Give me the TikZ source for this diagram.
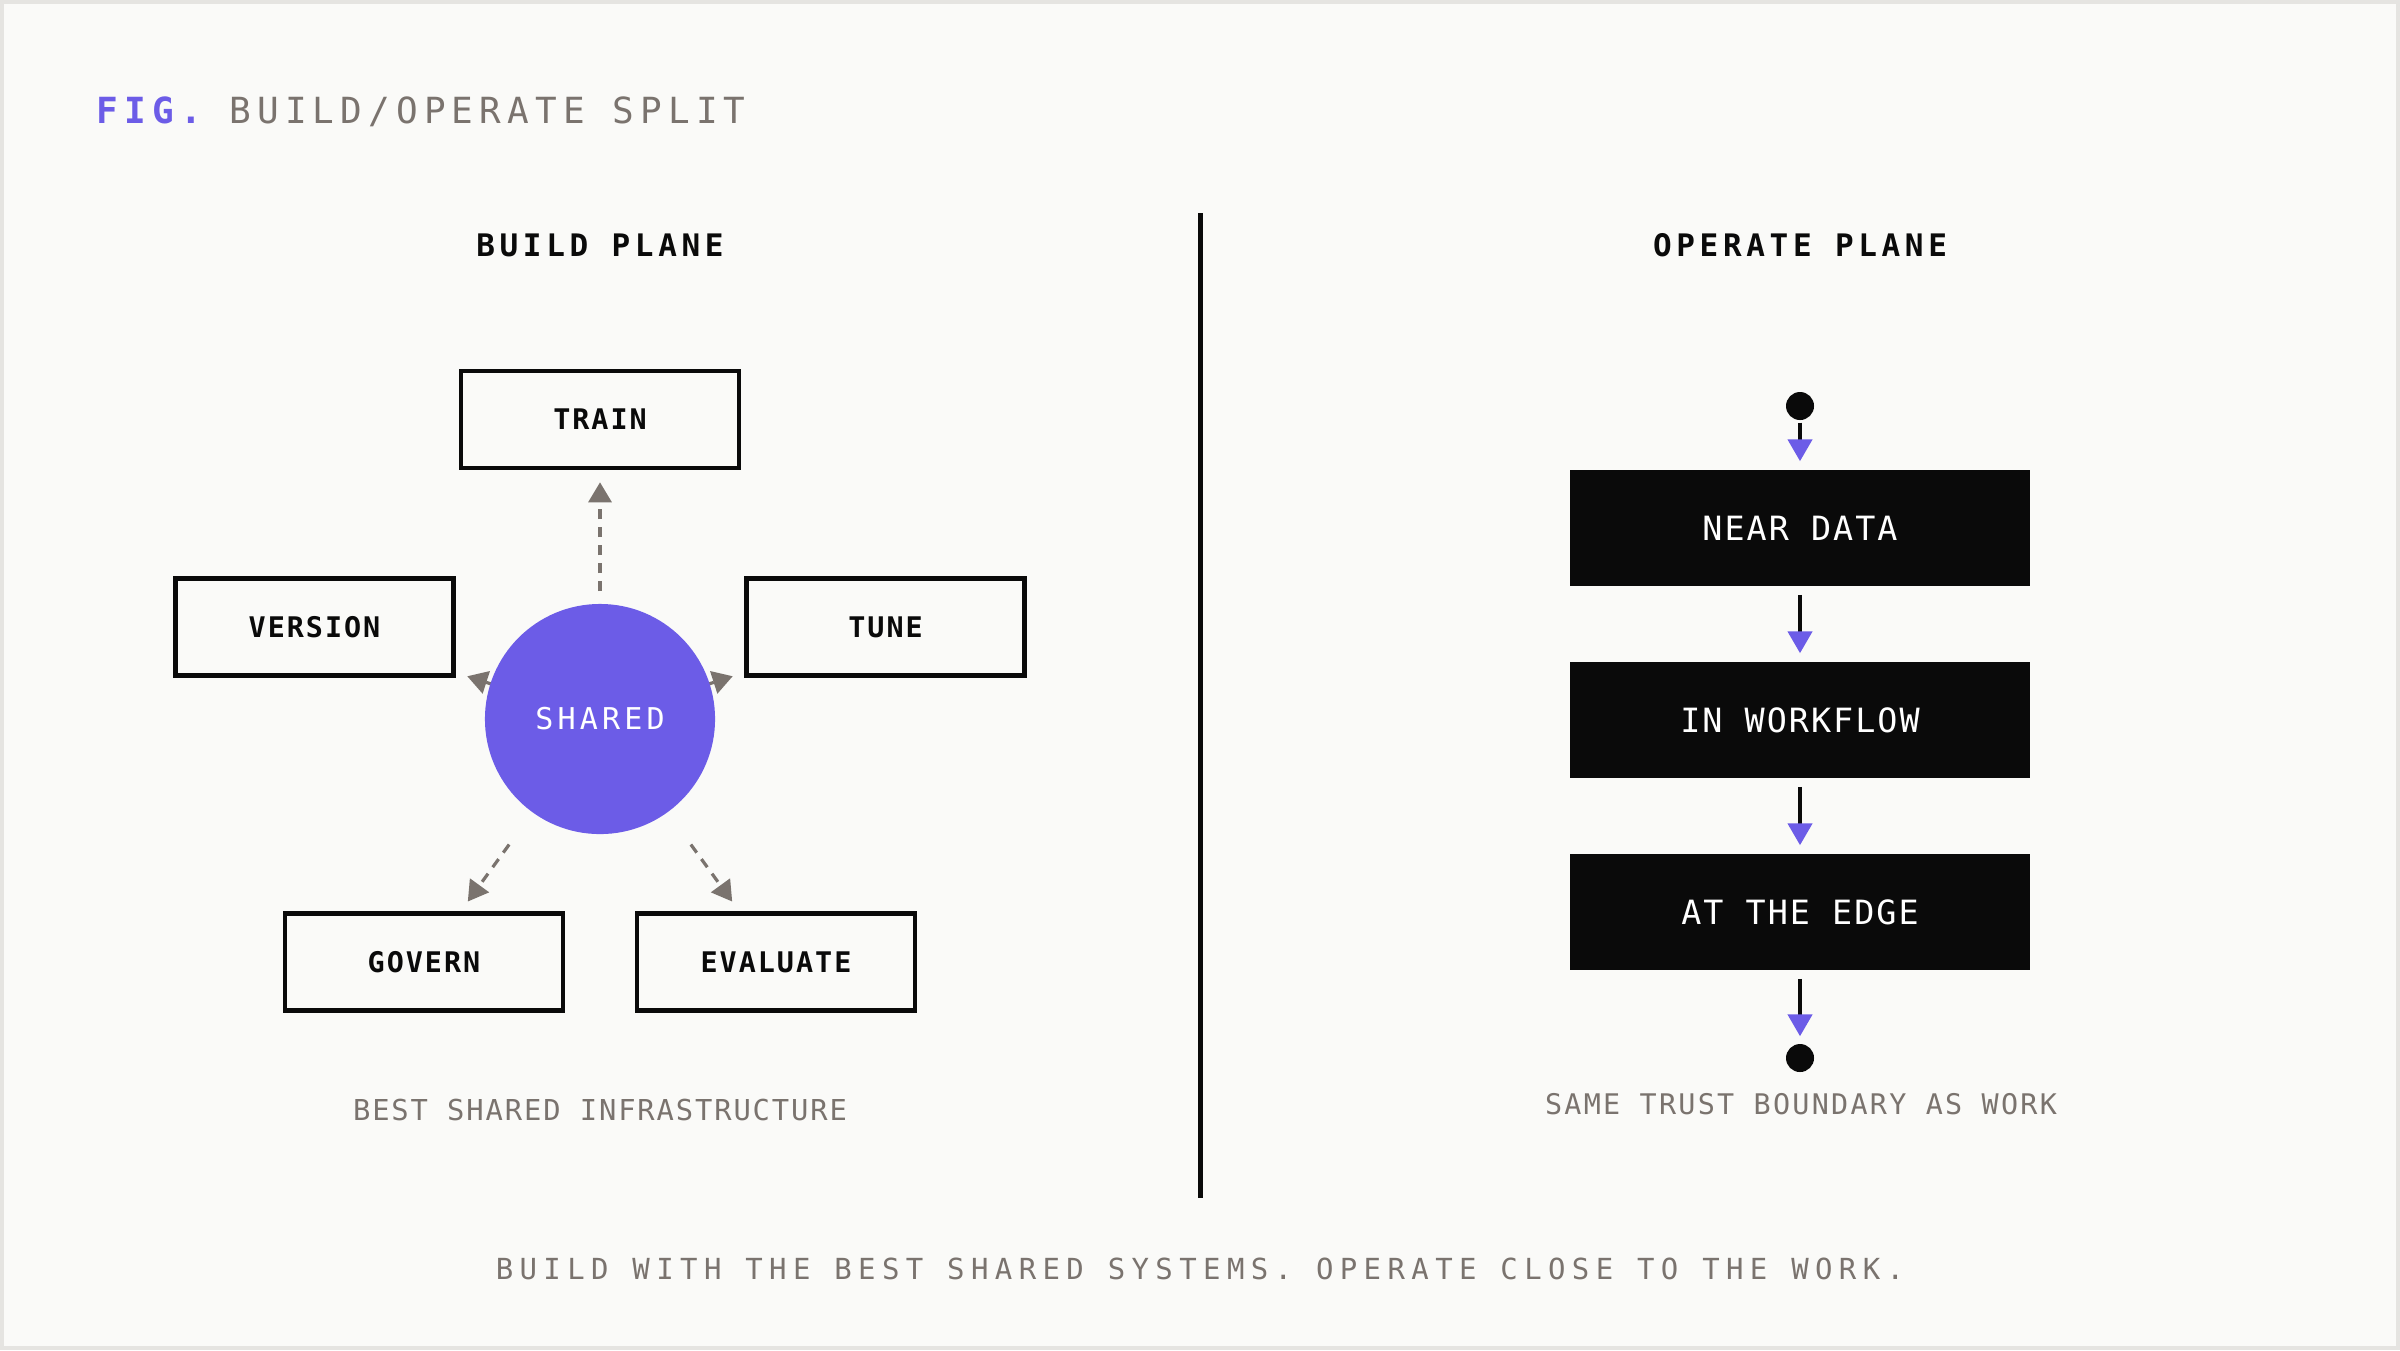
\documentclass[tikz,border=0pt]{standalone}
\usepackage{fontspec}
\setmainfont{DejaVu Sans Mono}
\usetikzlibrary{arrows.meta}
\definecolor{brand}{HTML}{6C5CE7}
\definecolor{ink}{HTML}{0A0A0A}
\definecolor{mute}{HTML}{7A736E}
\definecolor{paper}{HTML}{FAFAF8}
\definecolor{rim}{HTML}{E5E4E1}
\begin{document}
\begin{tikzpicture}[x=0.01cm,y=-0.01cm,
  lbox/.style={draw=ink, line width=0.045cm, fill=paper, minimum width=2.78cm, minimum height=0.97cm, inner sep=0pt, text=ink,
    font={\fontsize{8.08pt}{9pt}\selectfont\bfseries\addfontfeatures{LetterSpace=7}}},
  dbox/.style={fill=ink, minimum width=4.6cm, minimum height=1.16cm, inner sep=0pt, text=white,
    font={\fontsize{9.5pt}{11pt}\selectfont\addfontfeatures{LetterSpace=6}}},
  enddot/.style={circle, fill=ink, minimum size=0.28cm, inner sep=0pt},
  darr/.style={draw=mute, line width=0.032cm, dash pattern=on 0.1cm off 0.08cm,
    -{Triangle[length=0.2cm,width=0.23cm]}, shorten <=0.12cm, shorten >=0.12cm},
  flow/.style={draw=ink, line width=0.045cm, -{Triangle[length=0.22cm,width=0.24cm,color=brand]}},
  plain/.style={inner sep=0pt, anchor=base},
]
\fill[rim] (0,0) rectangle (2400,1350);
\fill[paper] (4,4) rectangle (2396,1346);
\useasboundingbox (0,0) rectangle (2400,1350);

% title
\node[plain, anchor=base west, text=mute, font={\fontsize{10.24pt}{12pt}\selectfont\addfontfeatures{LetterSpace=17}}] (title) at (96,123.5)
  {\textcolor{brand}{\bfseries FIG.} BUILD/OPERATE SPLIT};

% headings
\node[plain, text=ink, font={\fontsize{8.82pt}{10pt}\selectfont\bfseries\addfontfeatures{LetterSpace=15}}] (bplane) at (600,256) {BUILD PLANE};
\node[plain, text=ink, font={\fontsize{8.82pt}{10pt}\selectfont\bfseries\addfontfeatures{LetterSpace=15}}] (oplane) at (1800,256) {OPERATE PLANE};

% divider
\coordinate (divtop) at (1200,213);
\coordinate (divbot) at (1200,1198);
\draw[ink, line width=0.05cm] (divtop) -- (divbot);

% build plane
\node[rectangle, minimum size=2.3cm, inner sep=0pt] (sharedbox) at (600,719) {};
\node[lbox] (train) at (600,419.5) {TRAIN};
\node[lbox] (version) at (314.5,627) {VERSION};
\node[lbox] (tune) at (885.5,627) {TUNE};
\node[lbox] (govern) at (424,962) {GOVERN};
\node[lbox] (evaluate) at (776,962) {EVALUATE};

\draw[darr] (sharedbox) -- (train);
\draw[darr] (sharedbox) -- (version);
\draw[darr] (sharedbox) -- (tune);
\draw[darr] (sharedbox) -- (govern);
\draw[darr] (sharedbox) -- (evaluate);

\node[circle, fill=brand, minimum size=2.3cm, inner sep=0pt, text=white,
  font={\fontsize{8.54pt}{10pt}\selectfont\addfontfeatures{LetterSpace=14}}] (shared) at (600,719) {SHARED};

\node[plain, text=mute, font={\fontsize{8.19pt}{10pt}\selectfont\addfontfeatures{LetterSpace=6.5}}] (bestcap) at (600,1120) {BEST SHARED INFRASTRUCTURE};

% operate plane
\node[enddot] (start) at (1800,406) {};
\node[dbox] (near) at (1800,528) {NEAR DATA};
\node[dbox] (workflow) at (1800,720) {IN WORKFLOW};
\node[dbox] (edge) at (1800,912) {AT THE EDGE};
\node[enddot] (stop) at (1800,1058) {};

\draw[flow, shorten <=0.02cm, shorten >=0.08cm] (start) -- (near);
\draw[flow, shorten <=0.08cm, shorten >=0.08cm] (near) -- (workflow);
\draw[flow, shorten <=0.08cm, shorten >=0.08cm] (workflow) -- (edge);
\draw[flow, shorten <=0.08cm, shorten >=0.07cm] (edge) -- (stop);

\node[plain, text=mute, font={\fontsize{8.08pt}{10pt}\selectfont\addfontfeatures{LetterSpace=8}}] (samecap) at (1801,1114) {SAME TRUST BOUNDARY AS WORK};

% footer
\node[plain, text=mute, font={\fontsize{8.25pt}{10pt}\selectfont\addfontfeatures{LetterSpace=22}}] (footer) at (1200,1279.5) {BUILD WITH THE BEST SHARED SYSTEMS. OPERATE CLOSE TO THE WORK.};
\end{tikzpicture}
\end{document}
